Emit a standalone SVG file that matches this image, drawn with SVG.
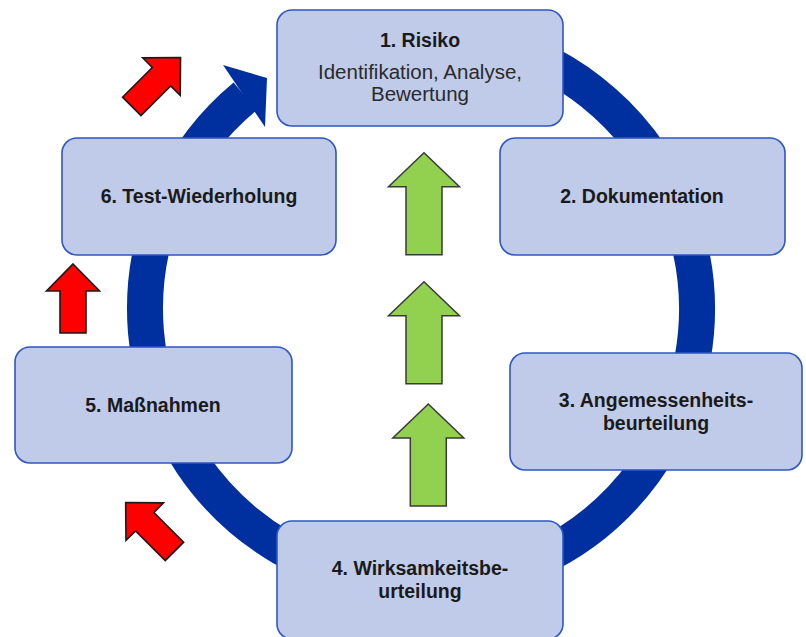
<svg xmlns="http://www.w3.org/2000/svg" width="806" height="637" viewBox="0 0 806 637">
<style>
.node{fill:#BFCBE9;stroke:#2F57C4;stroke-width:1.6}
.t{font-family:"Liberation Sans",Arial,sans-serif;font-size:19.5px;fill:#1a1a1a;text-anchor:middle}
.r{font-size:20.5px;fill:#2a2a2a}
.b{font-weight:bold}
.ring{fill:none;stroke:#0030A0;stroke-width:36}
.red{fill:#FF0000;stroke:#1a1a1a;stroke-width:1.6;stroke-linejoin:miter}
.green{fill:#92D050;stroke:#3a3a3a;stroke-width:1.5}
</style>
<defs>
<path id="redArrow" d="M0,-35 L26.5,-8 L13,-8 L13,34 L-13,34 L-13,-8 L-26.5,-8 Z"/>
<path id="greenArrow" d="M0,0 L35.5,34 L18,34 L18,102 L-18,102 L-18,34 L-35.5,34 Z"/>
</defs>
<rect width="806" height="637" fill="#FFFFFF"/>
<g id="connectors">
<path class="ring" d="M373.07,37.19 A276,276 0 1 1 245.07,96.34"/>
<polygon fill="#0030A0" points="223,65 267,78 265,127"/>
<use href="#redArrow" class="red" transform="translate(155.8,82.3) rotate(45)"/>
<use href="#redArrow" class="red" transform="translate(73,299)"/>
<use href="#redArrow" class="red" transform="translate(150.4,527.3) rotate(-45)"/>
<use href="#greenArrow" class="green" transform="translate(424,152.7)"/>
<use href="#greenArrow" class="green" transform="translate(424,281.7)"/>
<use href="#greenArrow" class="green" transform="translate(428.3,404)"/>
</g>
<g id="node1">
<rect class="node" x="277" y="10" width="286" height="116" rx="15"/>
<text class="t b" x="420" y="47">1. Risiko</text>
<text class="t r" x="420" y="79">Identifikation, Analyse,</text>
<text class="t r" x="420" y="101">Bewertung</text>
</g>
<g id="node2">
<rect class="node" x="500" y="138" width="285" height="117" rx="15"/>
<text class="t b" x="642" y="203">2. Dokumentation</text>
</g>
<g id="node3">
<rect class="node" x="510" y="353" width="292" height="117" rx="15"/>
<text class="t b" x="656" y="407">3. Angemessenheits-</text>
<text class="t b" x="656" y="430">beurteilung</text>
</g>
<g id="node4">
<rect class="node" x="277" y="521" width="286" height="118" rx="15"/>
<text class="t b" x="420" y="575">4. Wirksamkeitsbe-</text>
<text class="t b" x="420" y="598">urteilung</text>
</g>
<g id="node5">
<rect class="node" x="15" y="347" width="277" height="116" rx="15"/>
<text class="t b" x="153" y="412">5. Maßnahmen</text>
</g>
<g id="node6">
<rect class="node" x="62" y="138" width="274" height="117" rx="15"/>
<text class="t b" x="199" y="203">6. Test-Wiederholung</text>
</g>
</svg>
